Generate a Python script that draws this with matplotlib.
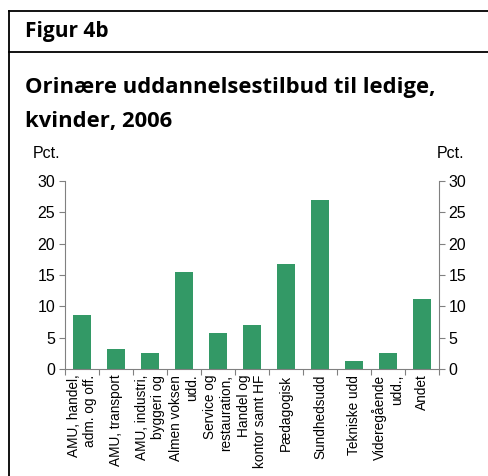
import numpy as np
import matplotlib.pyplot as plt
from matplotlib.lines import Line2D

categories = ['AMU, handel,\nadm. og off.', 'AMU, transport', 'AMU, industri,\nbyggeri og',
              'Almen voksen\nudd.', 'Service og\nrestauration,', 'Handel og\nkontor samt HF',
              'Pædagogisk', 'Sundhedsudd', 'Tekniske udd', 'Videregående\nudd.,', 'Andet']
values = [8.6, 3.2, 2.5, 15.5, 5.7, 7.0, 16.8, 27.0, 1.3, 2.5, 11.2]
yticks = [0, 5, 10, 15, 20, 25, 30]

bar_color = '#339966'
spine_color = '#808080'

fig = plt.figure(figsize=(4.89, 4.76), dpi=100)
ax = fig.add_axes([0.1329, 0.2248, 0.8978 - 0.1329, 0.6197 - 0.2248])

x = np.arange(len(values))
ax.bar(x, values, width=0.53, color=bar_color)
ax.set_xlim(-0.5, len(values) - 0.5)
ax.set_ylim(0, 30)
ax.set_yticks(yticks)
ax.set_xticks(np.arange(len(values) + 1) - 0.5)
ax.set_xticklabels([])
ax.tick_params(axis='x', length=4, color=spine_color)
ax.tick_params(axis='y', length=4, color=spine_color, labelsize=11.5, pad=3)
for s in ['top', 'right']:
    ax.spines[s].set_visible(False)
for s in ['left', 'bottom']:
    ax.spines[s].set_color(spine_color)

for i, lab in enumerate(categories):
    ax.text(i, -0.9, lab, rotation=90, ha='center', va='top', multialignment='right',
            fontsize=9.8, family='Liberation Sans', linespacing=1.25)

ax2 = ax.twinx()
ax2.set_ylim(0, 30)
ax2.set_yticks(yticks)
ax2.tick_params(axis='y', length=4, color=spine_color, labelsize=11.5, pad=3)
for s in ['top', 'left', 'bottom']:
    ax2.spines[s].set_visible(False)
ax2.spines['right'].set_color(spine_color)

for a in (ax, ax2):
    for t in a.get_yticklabels():
        t.set_family('Liberation Sans')

# header text
fig.text(25 / 489, 1 - 31 / 476, 'Figur 4b', fontsize=15, fontweight='bold',
         family='Open Sans', va='center', ha='left')
fig.text(25 / 489, 1 - 93 / 476, 'Orinære uddannelsestilbud til ledige,', fontsize=15.8,
         fontweight='bold', family='Open Sans', va='baseline', ha='left')
fig.text(25 / 489, 1 - 127 / 476, 'kvinder, 2006', fontsize=15.8,
         fontweight='bold', family='Open Sans', va='baseline', ha='left')
fig.text(33 / 489, 1 - 153 / 476, 'Pct.', fontsize=11.5, family='Liberation Sans', va='center')
fig.text(437 / 489, 1 - 153 / 476, 'Pct.', fontsize=11.5, family='Liberation Sans', va='center')

# frame lines
fig.add_artist(Line2D([9 / 489, 1], [1 - 11 / 476, 1 - 11 / 476], color='black', lw=1.3))
fig.add_artist(Line2D([9 / 489, 1], [1 - 52 / 476, 1 - 52 / 476], color='black', lw=1.3))
fig.add_artist(Line2D([9 / 489, 9 / 489], [0, 1 - 11 / 476], color='black', lw=1.3))

fig.savefig('out.png', dpi=100)
